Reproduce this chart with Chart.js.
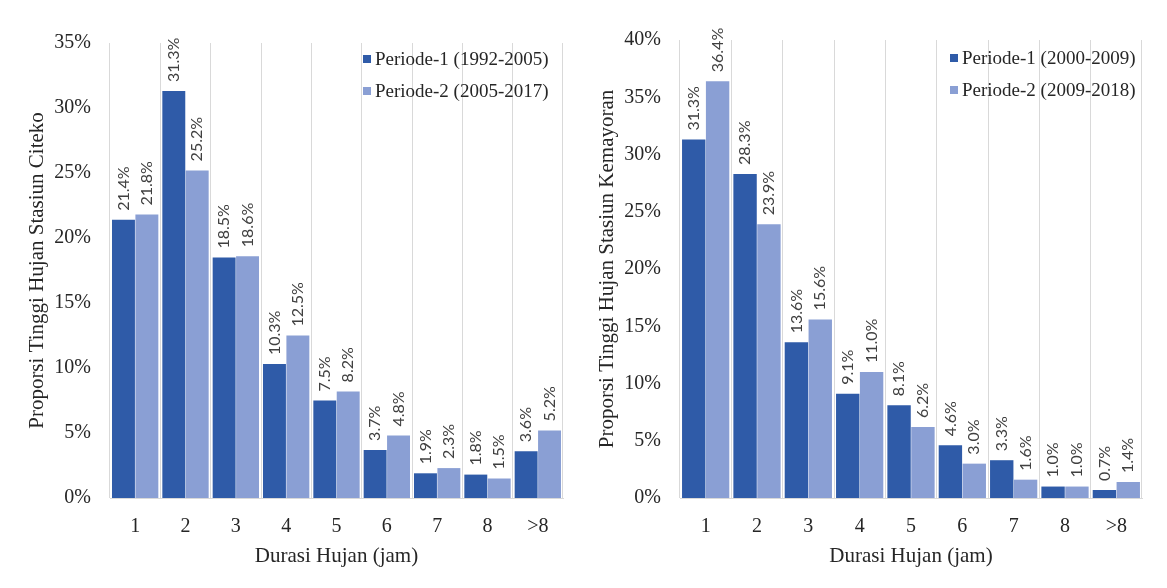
<!DOCTYPE html>
<html>
<head>
<meta charset="utf-8">
<script src="https://cdn.jsdelivr.net/npm/chart.js@4.4.0/dist/chart.umd.min.js"></script>
<style>
  html, body { margin: 0; padding: 0; background: #fff; }
  #wrap { position: relative; width: 1167px; height: 588px; }
  .box { position: absolute; top: 0; height: 588px; }
  #b1 { left: 0; width: 583px; }
  #b2 { left: 583px; width: 584px; }
</style>
</head>
<body>
<div id="wrap">
  <div class="box" id="b1"><canvas id="c1"></canvas></div>
  <div class="box" id="b2"><canvas id="c2"></canvas></div>
</div>
<script>
// ---- data ----
const categories = ['1', '2', '3', '4', '5', '6', '7', '8', '>8'];

const citekoLabels = ['Periode-1 (1992-2005)', 'Periode-2 (2005-2017)'];
const citekoP1 = [21.4, 31.3, 18.5, 10.3, 7.5, 3.7, 1.9, 1.8, 3.6];
const citekoP2 = [21.8, 25.2, 18.6, 12.5, 8.2, 4.8, 2.3, 1.5, 5.2];

const kemayoranLabels = ['Periode-1 (2000-2009)', 'Periode-2 (2009-2018)'];
const kemayoranP1 = [31.3, 28.3, 13.6, 9.1, 8.1, 4.6, 3.3, 1.0, 0.7];
const kemayoranP2 = [36.4, 23.9, 15.6, 11.0, 6.2, 3.0, 1.6, 1.0, 1.4];

const yTitleCiteko = 'Proporsi Tinggi Hujan Stasiun Citeko';
const yTitleKemayoran = 'Proporsi Tinggi Hujan Stasiun Kemayoran';
const xTitle = 'Durasi Hujan (jam)';

// ---- styles ----
const DARK = '#2F5BA8';
const LIGHT = '#8A9FD4';
const GRID = '#D9D9D9';
const TEXT = '#262626';
const SERIF = "'Liberation Serif', 'Times New Roman', serif";

const valueLabels = {
  id: 'valueLabels',
  afterDatasetsDraw(chart) {
    const ctx = chart.ctx;
    ctx.save();
    ctx.font = "16px Lato, 'Liberation Sans', sans-serif";
    ctx.fillStyle = '#404040';
    ctx.textAlign = 'left';
    ctx.textBaseline = 'middle';
    chart.data.datasets.forEach((ds, di) => {
      const meta = chart.getDatasetMeta(di);
      meta.data.forEach((bar, i) => {
        const v = ds.data[i];
        ctx.save();
        ctx.translate(bar.x, bar.y - 9);
        ctx.rotate(-Math.PI / 2);
        ctx.fillText(v.toFixed(1) + '%', 0, 0);
        ctx.restore();
      });
    });
    ctx.restore();
  }
};

const innerLegend = {
  id: 'innerLegend',
  afterDraw(chart, args, opts) {
    const ctx = chart.ctx;
    ctx.save();
    ctx.font = '19px ' + SERIF;
    ctx.textBaseline = 'middle';
    ctx.textAlign = 'left';
    chart.data.datasets.forEach((ds, i) => {
      const y = opts.y + i * opts.gap;
      ctx.fillStyle = ds.backgroundColor;
      ctx.fillRect(opts.x, y - 4, 8, 8);
      ctx.fillStyle = TEXT;
      ctx.fillText(ds.label, opts.x + 12, y + 1);
    });
    ctx.restore();
  }
};

function makeChart(id, labels, p1, p2, yMax, yTitle, pad, yWidth, legendPos, titlePad) {
  return new Chart(document.getElementById(id), {
    type: 'bar',
    data: {
      labels: categories,
      datasets: [
        { label: labels[0], data: p1, backgroundColor: DARK, categoryPercentage: 0.93, barPercentage: 0.98 },
        { label: labels[1], data: p2, backgroundColor: LIGHT, categoryPercentage: 0.93, barPercentage: 0.98 }
      ]
    },
    options: {
      responsive: true,
      maintainAspectRatio: false,
      animation: false,
      events: [],
      layout: { padding: pad },
      plugins: {
        legend: { display: false },
        tooltip: { enabled: false },
        innerLegend: legendPos
      },
      scales: {
        x: {
          grid: { display: true, color: GRID, lineWidth: 1, drawTicks: false, offset: true },
          border: { display: true, color: GRID, width: 1 },
          ticks: { color: TEXT, font: { family: SERIF, size: 20 }, padding: 17 },
          title: { display: true, text: xTitle, color: TEXT, font: { family: SERIF, size: 21 }, padding: { top: 0, bottom: 19 } },
          afterFit: s => { s.height = 90; }
        },
        y: {
          min: 0, max: yMax,
          grid: { display: false, drawTicks: false },
          border: { display: false },
          ticks: { stepSize: 5, color: TEXT, font: { family: SERIF, size: 20 }, padding: 19, callback: v => v + '%' },
          title: { display: true, text: yTitle, color: TEXT, font: { family: SERIF, size: 21 }, padding: { top: titlePad, bottom: 0 } },
          afterFit: s => { s.width = yWidth; }
        }
      }
    },
    plugins: [valueLabels, innerLegend]
  });
}

makeChart('c1', citekoLabels, citekoP1, citekoP2, 35, yTitleCiteko,
  { left: 0, right: 20, top: 43, bottom: 0 }, 110, { x: 363, y: 59, gap: 32 }, 25);
makeChart('c2', kemayoranLabels, kemayoranP1, kemayoranP2, 40, yTitleKemayoran,
  { left: 0, right: 25, top: 40, bottom: 0 }, 97, { x: 367, y: 58, gap: 32 }, 12);
</script>
</body>
</html>
